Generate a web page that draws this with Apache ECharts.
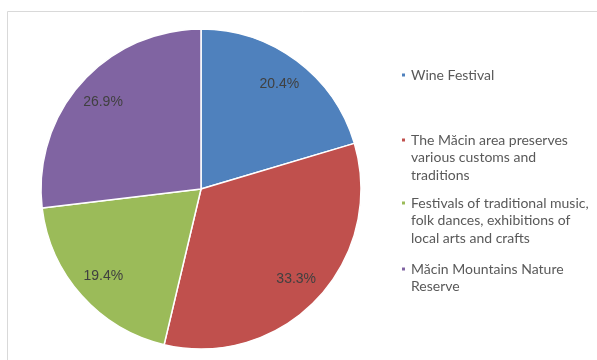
<!DOCTYPE html>
<html>
<head>
<meta charset="utf-8">
<title>Măcin attractions</title>
<script src="https://cdn.jsdelivr.net/npm/echarts@6/dist/echarts.min.js"></script>
<style>
  html, body { margin: 0; padding: 0; background: #ffffff; }
  #chart { width: 597px; height: 360px; }
</style>
</head>
<body>
<div id="chart"></div>
<script>
// Categories and their shares (percent)
const categories = [
  'Wine Festival',
  'The Măcin area preserves various customs and traditions',
  'Festivals of traditional music, folk dances, exhibitions of local arts and crafts',
  'Măcin Mountains Nature Reserve'
];
const shares = [20.4, 33.3, 19.4, 26.9];

// Legend text, wrapped the way it is shown
const legendLines = [
  ['Wine Festival'],
  ['The Măcin area preserves', 'various customs and', 'traditions'],
  ['Festivals of traditional music,', 'folk dances, exhibitions of', 'local arts and crafts'],
  ['Măcin Mountains Nature', 'Reserve']
];

const colors = ['#4F81BD', '#C0504D', '#9BBB59', '#8064A2'];

const chart = echarts.init(document.getElementById('chart'), null, { renderer: 'canvas' });

const LH = 17.5;             // legend line height
const firstLineY = [75, 140, 203, 269];

// One legend block per entry so each can sit at its own height.
// Legend text is centred on its marker, so blank lines are put in front
// to bring the first real line level with the marker.
const legends = categories.map((name, i) => {
  const n = legendLines[i].length;
  const blockH = (2 * n - 1) * LH;
  const text = new Array(n - 1).fill('').concat(legendLines[i]).join('\n');
  return {
    show: true,
    orient: 'vertical',
    left: 400,
    top: firstLineY[i] - blockH / 2,
    padding: 0,
    itemWidth: 5,
    itemHeight: 5,
    icon: 'rect',
    selectedMode: false,
    data: [name],
    formatter: () => text,
    textStyle: {
      fontFamily: 'Lato, "Liberation Sans", sans-serif',
      fontSize: 14,
      color: '#595959',
      lineHeight: LH
    }
  };
});

const pieData = categories.map((name, i) => ({
  name: name,
  value: shares[i],
  itemStyle: { color: colors[i] }
}));

chart.setOption({
  backgroundColor: '#ffffff',
  animation: false,
  legend: legends,
  graphic: [{
    type: 'rect',
    silent: true,
    shape: { x: 7.5, y: 11.5, width: 700, height: 500 },
    style: { fill: 'none', stroke: '#d9d9d9', lineWidth: 1 }
  }],
  series: [
    {
      type: 'pie',
      center: [201, 189],
      radius: [0, 160],
      startAngle: 90,
      clockwise: true,
      avoidLabelOverlap: false,
      label: { show: false },
      labelLine: { show: false },
      emphasis: { disabled: true },
      itemStyle: { borderColor: '#ffffff', borderWidth: 1.5 },
      data: pieData
    },
    {
      // transparent ring that carries the percentage labels at ~80% radius
      type: 'pie',
      center: [201, 189],
      radius: [96, 160],
      startAngle: 90,
      clockwise: true,
      silent: true,
      avoidLabelOverlap: false,
      emphasis: { disabled: true },
      itemStyle: { color: 'rgba(0,0,0,0)', borderWidth: 0 },
      label: {
        show: true,
        position: 'inside',
        formatter: p => p.value.toFixed(1) + '%',
        fontFamily: '"Liberation Sans", Arial, sans-serif',
        fontSize: 14,
        color: '#404040'
      },
      labelLine: { show: false },
      data: categories.map((name, i) => ({ name: name, value: shares[i] }))
    }
  ]
});
</script>
</body>
</html>
